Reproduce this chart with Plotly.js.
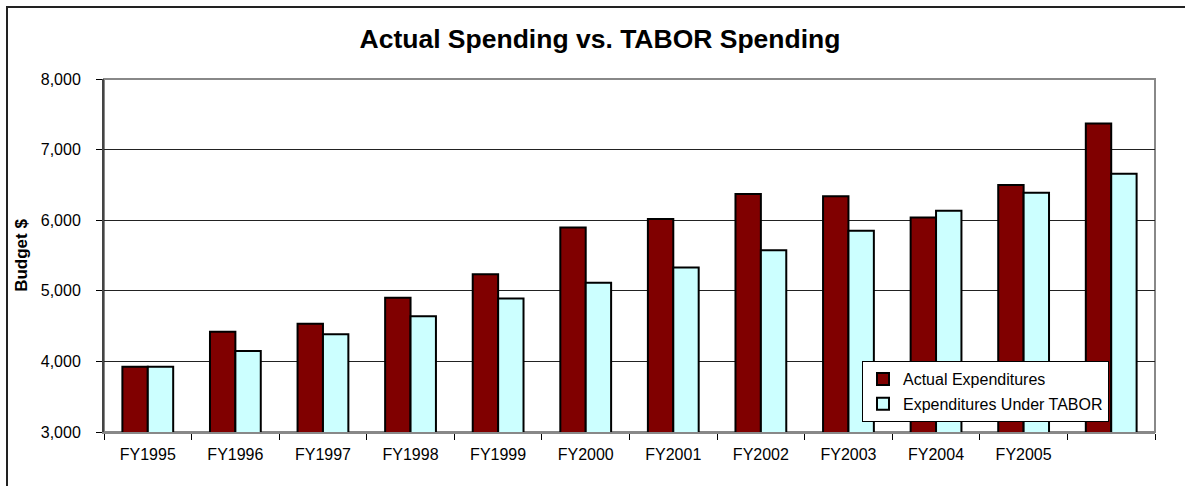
<!DOCTYPE html>
<html>
<head>
<meta charset="utf-8">
<script src="https://cdn.plot.ly/plotly-3.0.1.min.js"></script>
<style>
html,body{margin:0;padding:0;background:#fff;}
#wrap{position:relative;width:1185px;height:486px;overflow:hidden;}
#frame{position:absolute;left:6px;top:6px;width:1300px;height:600px;border-left:2px solid #222;border-top:2px solid #222;pointer-events:none;z-index:5;}
#chart{position:absolute;left:0;top:0;width:1185px;height:486px;}
</style>
</head>
<body>
<div id="wrap"><div id="chart"></div><div id="frame"></div></div>
<script>
var categories = ["FY1995","FY1996","FY1997","FY1998","FY1999","FY2000","FY2001","FY2002","FY2003","FY2004","FY2005","FY2006"];
var tickLabels = ["FY1995","FY1996","FY1997","FY1998","FY1999","FY2000","FY2001","FY2002","FY2003","FY2004","FY2005",""];
var actualExpenditures = [3925, 4420, 4534, 4900, 5235, 5895, 6018, 6370, 6340, 6037, 6500, 7371];
var taborExpenditures = [3925, 4147, 4384, 4640, 4890, 5113, 5330, 5574, 5851, 6133, 6390, 6657];

var traces = [
  {type:'bar', name:'Actual Expenditures', x:categories, y:actualExpenditures,
   marker:{color:'#800000', line:{color:'#000', width:2}}, legendgroup:'a'},
  {type:'bar', name:'Expenditures Under TABOR', x:categories, y:taborExpenditures,
   marker:{color:'#CCFFFF', line:{color:'#000', width:2}}, legendgroup:'b'}
];

var layout = {
  width:1185, height:486,
  margin:{l:104, r:30, t:79, b:54},
  paper_bgcolor:'#fff', plot_bgcolor:'#fff',
  font:{family:'Liberation Sans, Arial, sans-serif', size:16, color:'#000'},
  title:{text:'<b>Actual Spending vs. TABOR Spending</b>', font:{size:26.5, color:'#000'},
         x:600/1185, xanchor:'center', y:1-39/486, yanchor:'middle'},
  barmode:'group', bargap:0.42, bargroupgap:0,
  showlegend:true,
  legend:{x:(862-104)/1051, xanchor:'left', y:(432-361)/353, yanchor:'top',
          bgcolor:'#fff', bordercolor:'#000', borderwidth:1,
          font:{size:16, color:'#000'}, traceorder:'grouped', tracegroupgap:1},
  xaxis:{type:'category', tickmode:'array', tickvals:categories, ticktext:tickLabels,
         tickson:'boundaries', ticks:'outside', ticklen:6, tickwidth:1, tickcolor:'#000',
         showline:true, linecolor:'#888', linewidth:2, showgrid:false, zeroline:false,
         ticklabelstandoff:7, tickfont:{size:16}, fixedrange:true},
  yaxis:{range:[3000,8000], dtick:1000, tickformat:',d', ticks:'outside', ticklen:6,
         tickwidth:1, tickcolor:'#000', showline:true, linecolor:'#444', linewidth:2,
         showgrid:true, gridcolor:'#222', gridwidth:1, zeroline:false,
         ticklabelstandoff:12, tickfont:{size:16},
         title:{text:'<b>Budget $</b>', font:{size:17}, standoff:9}, automargin:false, fixedrange:true},
  shapes:[{type:'rect', xref:'paper', yref:'paper', x0:0, x1:1, y0:0, y1:1,
           line:{color:'#888', width:2}, layer:'below'}]
};

Plotly.newPlot('chart', traces, layout, {displayModeBar:false, staticPlot:true});
</script>
</body>
</html>
